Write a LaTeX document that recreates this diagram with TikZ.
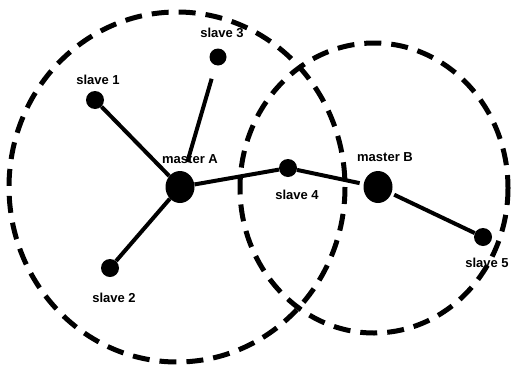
\documentclass[tikz,border=0pt]{standalone}
\usepackage{fontspec}
\setmainfont{Liberation Sans}
\usetikzlibrary{positioning, shapes.geometric}

\begin{document}
\begin{tikzpicture}[x=1pt, y=-1pt,
    dot/.style={circle, fill=black, inner sep=0pt, minimum size=18pt},
    master/.style={ellipse, fill=black, inner sep=0pt, minimum width=29pt, minimum height=32pt},
    lbl/.style={font=\fontsize{13}{15}\selectfont\bfseries, inner sep=1pt},
    link/.style={line width=4pt},
    coverage/.style={line width=5pt, dash pattern=on 17pt off 10pt}]
    \useasboundingbox (0,0) rectangle (511,367);

    % ranges of the two masters
    \draw[coverage] (177,187) ellipse [x radius=168, y radius=175];
    \draw[coverage] (374,188) ellipse [x radius=134, y radius=145];

    % piconet A
    \node[master] (mA) at (180,187) {};
    \node[dot] (s1) at (95,100) {};
    \node[dot] (s2) at (110,268) {};
    \node[dot, minimum size=17pt] (s3) at (218,57) {};
    \node[dot] (s4) at (288,168) {};

    % piconet B
    \node[master] (mB) at (378,187) {};
    \node[dot] (s5) at (483,237) {};

    \node[lbl] at (98,80) {slave 1};
    \node[lbl] at (114,298) {slave 2};
    \node[lbl] at (222,33) {slave 3};
    \node[lbl] at (297,195) {slave 4};
    \node[lbl] at (487,263) {slave 5};
    \node[lbl] at (190,159) {master A};
    \node[lbl] at (385,157) {master B};

    \draw[link] (s1) -- (mA);
    \draw[link] (s2) -- (mA);
    \draw[link, shorten <=14pt, shorten >=10pt] (s3) -- (mA);
    \draw[link] (mA) -- (s4);
    \draw[link, shorten >=4pt] (s4) -- (mB);
    \draw[link, shorten <=3pt] (mB) -- (s5);
\end{tikzpicture}
\end{document}
